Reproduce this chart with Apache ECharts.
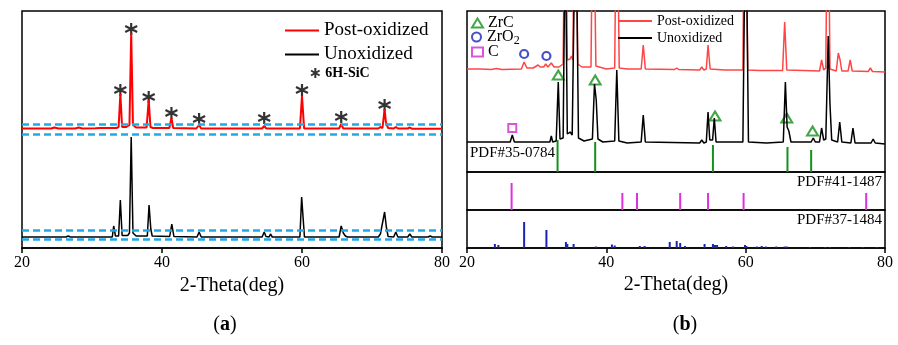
<!DOCTYPE html>
<html>
<head>
<meta charset="utf-8">
<script src="https://cdn.jsdelivr.net/npm/echarts@6/dist/echarts.min.js"></script>
<style>
  html, body { margin: 0; padding: 0; background: #fff; }
  #chart { width: 898px; height: 345px; }
</style>
</head>
<body>
<div id="chart"></div>
<script>
const FONT = "'Liberation Serif', 'Times New Roman', serif";

// ---------- panel (a): [2theta, intensity above baseline] ----------
const postOxA = [[20,0.5],[22,0.5],[24.2,0.5],[24.6,1.5],[25.2,0.5],[27.6,0.5],[28.1,1.5],[28.6,0.5],[30.5,0.8],[31.2,1],[33.5,1],[33.8,2],[34.05,35],[34.3,2],[34.9,2],[35.35,4],[35.6,96],[35.85,4],[36.3,1.5],[37.8,1.5],[38.1,29],[38.35,2],[38.7,1],[41.05,1],[41.35,11],[41.6,1],[44.9,0.5],[45.3,4],[45.6,0.5],[54.3,0.5],[54.6,3],[54.9,0.5],[55.5,0.5],[59.7,0.5],[60.0,33],[60.3,0.5],[65.3,0.5],[65.6,5],[65.9,0.5],[70.9,0.5],[71.2,2],[71.5,1],[71.8,20],[72.0,6],[72.3,1],[73.1,0.5],[73.4,2],[73.7,0.5],[75.1,0.5],[75.4,1.5],[75.7,0.3],[80,0.3]];
const unoxA = [[20,0],[26.3,0],[26.6,1],[26.9,0],[32.0,0],[32.2,0.8],[32.4,0],[32.9,0],[33.1,11],[33.35,1],[33.8,1],[34.05,37],[34.3,1.5],[35.1,1.5],[35.35,4],[35.6,100],[35.85,4],[36.3,1],[37.9,1],[38.15,32],[38.4,8],[38.6,1],[41.1,0.5],[41.4,13],[41.7,0.5],[45.0,0],[45.3,5],[45.6,0],[54.3,0],[54.6,5],[54.85,0.5],[55.3,0],[55.5,3],[55.75,0],[59.7,0],[59.95,40],[60.15,20],[60.35,0],[65.3,0],[65.6,11],[65.9,4],[66.2,1],[66.5,0],[70.9,0],[71.2,3],[71.4,1],[71.8,25],[72.05,10],[72.3,0.5],[73.1,0],[73.4,5],[73.7,0],[75.1,0],[75.4,3],[75.7,0],[78.0,0],[78.3,1],[78.6,0],[80,0]];
const sicStars = [[34.05,158],[35.6,219],[38.1,151],[41.35,135],[45.3,129],[54.6,130],[60.0,158],[65.6,131],[71.8,143]];
const dashLevels = [124, 114, 17.5, 8.5];
const SHIFT_A = { post: 119, unox: 11 };

// ---------- panel (b) ----------
const postOxB = [[20,3],[22,3],[23.5,2.5],[24.2,3.5],[25,2.5],[27.8,3],[28.2,10],[28.6,4],[29.5,4],[30.2,7],[30.5,5],[31.0,5],[31.3,8],[31.6,5],[32.1,9],[32.5,5],[33.2,5],[33.8,8],[34.1,220],[34.4,12],[34.8,13],[35.0,16],[35.2,12],[35.5,260],[35.9,8],[36.5,5],[37.8,5],[38.1,220],[38.5,6],[40,3],[41.2,4],[41.5,220],[41.85,4],[43,3],[45.0,3],[45.3,27],[45.6,3],[49.8,2.5],[50.1,4],[50.4,2.5],[53.4,2],[53.7,5],[54.0,2],[54.35,3],[54.6,27],[54.9,3],[57,2],[59.6,2],[59.9,260],[60.3,2],[62,1.5],[65.3,1.5],[65.6,50],[65.9,2],[70.6,1],[70.9,12],[71.2,2],[71.5,4],[71.8,220],[72.1,3],[73.0,1],[73.3,19],[73.55,12],[73.8,1],[74.7,1],[75.0,12],[75.3,1],[77.6,0.5],[77.9,4],[78.2,0.5],[80,0]];
const unoxB = [[20,2],[24,2],[26.2,2],[26.5,9],[26.8,2],[30.5,2],[30.7,4],[30.9,2],[31.9,2],[32.1,8],[32.3,2],[32.8,3],[33.1,62],[33.35,5],[33.8,6],[34.1,220],[34.4,10],[34.8,12],[35.1,9],[35.6,260],[36.0,6],[36.8,3],[38.0,5],[38.3,60],[38.55,44],[38.8,5],[39.5,2],[41.2,3],[41.5,74],[41.8,3],[43,1],[45.0,2],[45.3,29],[45.6,2],[53.4,1],[53.7,4],[54.0,1],[54.35,2],[54.6,32],[54.85,4],[55.25,4],[55.5,26],[55.75,2],[59.6,2],[60.0,260],[60.4,2],[63,1],[65.4,2],[65.7,62],[65.95,17],[66.2,13],[66.5,2],[69.4,2],[69.7,6],[70.0,2],[70.6,2],[70.9,16],[71.2,4],[71.5,5],[71.85,108],[72.1,40],[72.35,4],[73.2,2],[73.5,22],[73.8,2],[75.1,1],[75.4,16],[75.7,1],[78.0,1],[78.3,5],[78.6,1],[80,0]];
const SHIFT_B = { post: 100, unox: 28 };

// reference patterns
const zrcRef = [[33.0,32],[38.4,30],[55.3,27],[66.0,25],[69.4,22]];
const graphiteRef = [[26.4,27],[42.3,17],[44.4,17],[50.6,17],[54.6,17],[59.7,17],[77.3,17]];
const zro2Ref = [[24.0,4],[24.5,3],[28.2,26],[31.4,18],[34.2,6],[34.4,4],[35.3,4],[38.5,1.5],[40.8,3.5],[41.2,2.5],[44.8,2],[45.5,2],[49.1,6],[50.1,7],[50.6,5],[51.3,2],[54.1,4],[55.3,4],[55.6,3],[55.9,3],[57.2,2],[58.2,1.5],[59.9,3],[60.1,2],[61.6,1.5],[62.3,2],[62.9,1.5],[64.4,1.5],[65.6,1.5],[65.9,1.5],[69.2,1],[71.4,1],[72.1,1],[74.9,1],[76.8,1],[78.8,1]];

// phase markers in panel (b)
const zrcMarks = [[33.1,97],[38.4,92],[55.6,56],[65.9,54],[69.6,41]];
const zro2Marks = [[28.2,118],[31.4,116]];
const carbonMarks = [[26.5,44]];

const shift = (arr, s) => arr.map(p => [p[0], p[1] + s]);
const txt = { color: '#000', fontFamily: FONT };

const xBase = (grid, showAxis) => ({
    gridIndex: grid, type: 'value', min: 20, max: 80, interval: 20,
    show: showAxis,
    name: '2-Theta(deg)', nameLocation: 'middle', nameGap: 27,
    nameTextStyle: { ...txt, fontSize: 20 },
    axisLine: { show: true, lineStyle: { color: '#000', width: 1.5 } },
    axisTick: { show: true, length: 5, lineStyle: { color: '#000', width: 1.5 } },
    axisLabel: { ...txt, fontSize: 16, margin: 7 },
    splitLine: { show: false }
});
const yBase = (grid, max) => ({ gridIndex: grid, type: 'value', min: 0, max: max, show: false, splitLine: { show: false } });
const gridBase = { show: true, borderColor: '#000', borderWidth: 1.5, backgroundColor: 'transparent', containLabel: false, outerBoundsMode: 'none' };

const legendBase = { padding: 0, selectedMode: false, orient: 'vertical' };
const markerLegend = (name, top, label) => ({
    ...legendBase, data: [name], left: 471, top: top, itemWidth: 11, itemHeight: 9,
    formatter: () => label,
    textStyle: { ...txt, fontSize: 16, rich: { s: { ...txt, fontSize: 12, padding: [7, 0, 0, 0] } } }
});

const chart = echarts.init(document.getElementById('chart'));
chart.setOption({
    animation: false,
    backgroundColor: '#fff',
    grid: [
        { ...gridBase, left: 22, right: 456, top: 11, height: 237 },
        { ...gridBase, left: 467, right: 13, top: 11, height: 161 },
        { ...gridBase, left: 467, right: 13, top: 172, height: 38 },
        { ...gridBase, left: 467, right: 13, top: 210, height: 38 }
    ],
    xAxis: [xBase(0, true), xBase(1, false), xBase(2, false), xBase(3, true)],
    yAxis: [yBase(0, 237), yBase(1, 161), yBase(2, 38), yBase(3, 38)],
    legend: [
        {
            ...legendBase, data: ['Post-oxidized', 'Unoxidized'], left: 285, top: 21,
            icon: 'rect', itemWidth: 34, itemHeight: 2, itemGap: 5,
            textStyle: { ...txt, fontSize: 19 }
        },
        {
            ...legendBase, data: ['6H-SiC'], left: 310, top: 66, itemWidth: 10, itemHeight: 10,
            textStyle: { ...txt, fontSize: 14, fontWeight: 'bold' }
        },
        {
            ...legendBase, data: ['Post-oxidized (b)', 'Unoxidized (b)'], left: 618, top: 14,
            icon: 'rect', itemWidth: 34, itemHeight: 2, itemGap: 3,
            formatter: n => n.replace(' (b)', ''),
            textStyle: { ...txt, fontSize: 14 }
        },
        markerLegend('ZrC', 15, 'ZrC'),
        markerLegend('ZrO2', 29, 'ZrO{s|2}'),
        markerLegend('C', 44, 'C')
    ],
    graphic: [
        { type: 'text', x: 225, y: 325, style: { text: '({b|a})', align: 'center', verticalAlign: 'middle', font: '20px ' + FONT, fill: '#000', rich: { b: { fontWeight: 'bold', fontSize: 20, fontFamily: FONT } } } },
        { type: 'text', x: 685, y: 325, style: { text: '({b|b})', align: 'center', verticalAlign: 'middle', font: '20px ' + FONT, fill: '#000', rich: { b: { fontWeight: 'bold', fontSize: 20, fontFamily: FONT } } } },
        { type: 'text', x: 470, y: 153, style: { text: 'PDF#35-0784', align: 'left', verticalAlign: 'middle', font: '15px ' + FONT, fill: '#000' } },
        { type: 'text', x: 882, y: 182, style: { text: 'PDF#41-1487', align: 'right', verticalAlign: 'middle', font: '15px ' + FONT, fill: '#000' } },
        { type: 'text', x: 882, y: 220, style: { text: 'PDF#37-1484', align: 'right', verticalAlign: 'middle', font: '15px ' + FONT, fill: '#000' } }
    ],
    series: [
        {
            name: 'Post-oxidized', type: 'line', xAxisIndex: 0, yAxisIndex: 0,
            data: shift(postOxA, SHIFT_A.post), symbol: 'none', showSymbol: false,
            lineStyle: { color: '#ff0000', width: 2 }, itemStyle: { color: '#ff0000' }
        },
        {
            name: 'Unoxidized', type: 'line', xAxisIndex: 0, yAxisIndex: 0,
            data: shift(unoxA, SHIFT_A.unox), symbol: 'none', showSymbol: false,
            lineStyle: { color: '#000', width: 1.5 }, itemStyle: { color: '#000' }
        },
        {
            name: 'guides', type: 'line', xAxisIndex: 0, yAxisIndex: 0, data: [],
            markLine: {
                silent: true, symbol: ['none', 'none'], label: { show: false },
                lineStyle: { type: [7, 4], color: '#22aae6', width: 2.5 },
                data: dashLevels.map(v => ({ yAxis: v }))
            }
        },
        {
            name: '6H-SiC', type: 'scatter', xAxisIndex: 0, yAxisIndex: 0, data: sicStars,
            symbol: 'path://M5,0L5,10M0.67,2.5L9.33,7.5M0.67,7.5L9.33,2.5', symbolSize: 12,
            itemStyle: { color: 'rgba(0,0,0,0)', borderColor: '#000', borderWidth: 2.2 }
        },
        {
            name: 'Post-oxidized (b)', type: 'line', xAxisIndex: 1, yAxisIndex: 1,
            data: shift(postOxB, SHIFT_B.post), symbol: 'none', showSymbol: false,
            lineStyle: { color: '#ff4545', width: 1.5 }, itemStyle: { color: '#ff4545' }
        },
        {
            name: 'Unoxidized (b)', type: 'line', xAxisIndex: 1, yAxisIndex: 1,
            data: shift(unoxB, SHIFT_B.unox), symbol: 'none', showSymbol: false,
            lineStyle: { color: '#000', width: 1.5 }, itemStyle: { color: '#000' }
        },
        {
            name: 'PDF#35-0784', type: 'bar', xAxisIndex: 1, yAxisIndex: 1, data: zrcRef,
            barWidth: 2, itemStyle: { color: '#14901c' }
        },
        {
            name: 'ZrC', type: 'scatter', xAxisIndex: 1, yAxisIndex: 1, data: zrcMarks,
            symbol: 'triangle', symbolSize: [11, 9],
            itemStyle: { color: 'rgba(0,0,0,0)', borderColor: '#14901c', borderWidth: 2 }
        },
        {
            name: 'ZrO2', type: 'scatter', xAxisIndex: 1, yAxisIndex: 1, data: zro2Marks,
            symbol: 'circle', symbolSize: 8,
            itemStyle: { color: 'rgba(0,0,0,0)', borderColor: '#1a24b8', borderWidth: 2.2 }
        },
        {
            name: 'C', type: 'scatter', xAxisIndex: 1, yAxisIndex: 1, data: carbonMarks,
            symbol: 'rect', symbolSize: 8,
            itemStyle: { color: 'rgba(0,0,0,0)', borderColor: '#d22ad2', borderWidth: 2 }
        },
        {
            name: 'PDF#41-1487', type: 'bar', xAxisIndex: 2, yAxisIndex: 2, data: graphiteRef,
            barWidth: 2, itemStyle: { color: '#e02ee0' }
        },
        {
            name: 'PDF#37-1484', type: 'bar', xAxisIndex: 3, yAxisIndex: 3, data: zro2Ref,
            barWidth: 2, itemStyle: { color: '#1c22b0' }
        }
    ]
});
</script>
</body>
</html>
